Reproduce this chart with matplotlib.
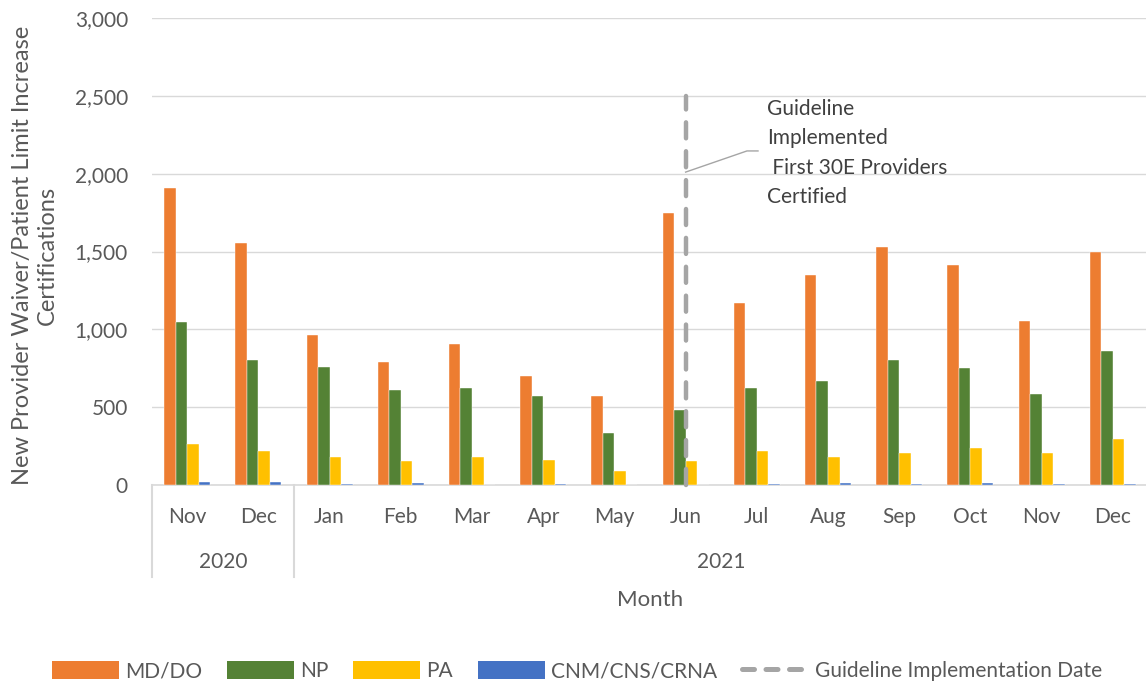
import matplotlib
matplotlib.use("Agg")
import matplotlib.pyplot as plt
import numpy as np
from matplotlib.patches import Patch
from matplotlib.lines import Line2D
import matplotlib.transforms as mtransforms

months = ["Nov", "Dec", "Jan", "Feb", "Mar", "Apr", "May", "Jun", "Jul", "Aug", "Sep", "Oct", "Nov", "Dec"]
years = ["2020", "2021"]
year_spans = [(0, 1), (2, 13)]
md_do = [1907, 1553, 962, 790, 906, 700, 570, 1747, 1169, 1349, 1529, 1413, 1055, 1497]
np_vals = [1047, 803, 758, 608, 621, 572, 334, 482, 621, 666, 803, 750, 585, 861]
pa = [263, 220, 178, 152, 180, 161, 92, 154, 218, 180, 204, 236, 206, 298]
cnm = [20, 18, 5, 14, 3, 5, 3, 3, 8, 15, 5, 10, 5, 5]
series_names = ["MD/DO", "NP", "PA", "CNM/CNS/CRNA"]
colors = ["#ED7D31", "#548235", "#FFC000", "#4472C4"]
guideline_idx = 7
guideline_top = 2500
annot_text = "Guideline\nImplemented\n First 30E Providers\nCertified"

FONT = "Lato"
TXT = "#595959"
GRID = "#D9D9D9"
plt.rcParams["font.family"] = [FONT, "DejaVu Sans"]

fig = plt.figure(figsize=(11.46, 6.84), dpi=100)
W, H = 1146, 684
left_px, right_px, bottom_px, top_px = 151.6, 1148.4, 485, 18
ax = fig.add_axes([left_px / W, 1 - bottom_px / H, (right_px - left_px) / W, (bottom_px - top_px) / H])

x = np.arange(len(months))
w = 0.162
all_series = [md_do, np_vals, pa, cnm]
for i, (vals, c) in enumerate(zip(all_series, colors)):
    ax.bar(x + (i - 1.5) * w, vals, width=w, color=c, edgecolor="white", linewidth=0.3, zorder=3)

ax.set_xlim(-0.5, len(months) - 0.5)
ax.set_ylim(0, 3000)
ax.set_yticks(np.arange(0, 3001, 500))
ax.yaxis.set_major_formatter(matplotlib.ticker.FuncFormatter(lambda v, p: f"{int(v):,}"))
ax.tick_params(axis="y", length=0, pad=17, labelsize=15, labelcolor=TXT)
ax.grid(axis="y", color=GRID, linewidth=1.0, zorder=0)
for s in ["top", "right", "left"]:
    ax.spines[s].set_visible(False)
ax.spines["bottom"].set_color(GRID)
ax.spines["bottom"].set_linewidth(1.2)

ax.set_xticks(x)
ax.set_xticklabels(months)
ax.tick_params(axis="x", length=0, pad=15.5, labelsize=15, labelcolor=TXT)

trans = mtransforms.blended_transform_factory(ax.transData, ax.transAxes)
ax_h = bottom_px - top_px
sep_bottom = -(577 - bottom_px) / ax_h
for b in [-0.5, 1.5]:
    ax.add_line(Line2D([b, b], [0, sep_bottom], transform=trans, color=GRID, lw=1.5, clip_on=False))
year_y = -(562 - bottom_px) / ax_h
for yl, (a, b) in zip(years, year_spans):
    ax.text((a + b) / 2, year_y, yl, transform=trans, ha="center", va="center", fontsize=15, color=TXT)

ax.text(0.5, -(600 - bottom_px) / ax_h, "Month", transform=ax.transAxes, ha="center", va="center",
        fontsize=16, color=TXT)

fig.text(35 / W, 1 - 255 / H, "New Provider Waiver/Patient Limit Increase\nCertifications", rotation=90,
         ha="center", va="center", fontsize=17, color=TXT, multialignment="center", linespacing=1.2)

# guideline line
ax.plot([guideline_idx, guideline_idx], [0, guideline_top], color="#A5A5A5", lw=3.2,
        linestyle=(0, (3.6, 2.9)), dash_capstyle="round", zorder=4, clip_on=False)

# annotation leader
ax.plot([guideline_idx, guideline_idx + 0.862, guideline_idx + 1.017], [2010, 2146, 2146],
        color="#A5A5A5", lw=1.0, zorder=4)
ax.text(guideline_idx + 1.15, 2133, annot_text, ha="left", va="center", fontsize=15, color="#404040",
        linespacing=1.58)

handles = [Patch(facecolor=c, label=n) for c, n in zip(colors, series_names)]
handles.append(Line2D([0], [0], color="#A5A5A5", lw=3.6, linestyle=(0, (2.4, 2.3)), dash_capstyle="round",
                      label="Guideline Implementation Date"))
leg = fig.legend(handles=handles, loc="center", bbox_to_anchor=(0.5035, 1 - 671 / H), ncol=5, frameon=False,
                 fontsize=15, handlelength=3.2, handleheight=0.95, columnspacing=1.2, handletextpad=0.3)
for t in leg.get_texts():
    t.set_color(TXT)

fig.savefig("out.png", dpi=100)
